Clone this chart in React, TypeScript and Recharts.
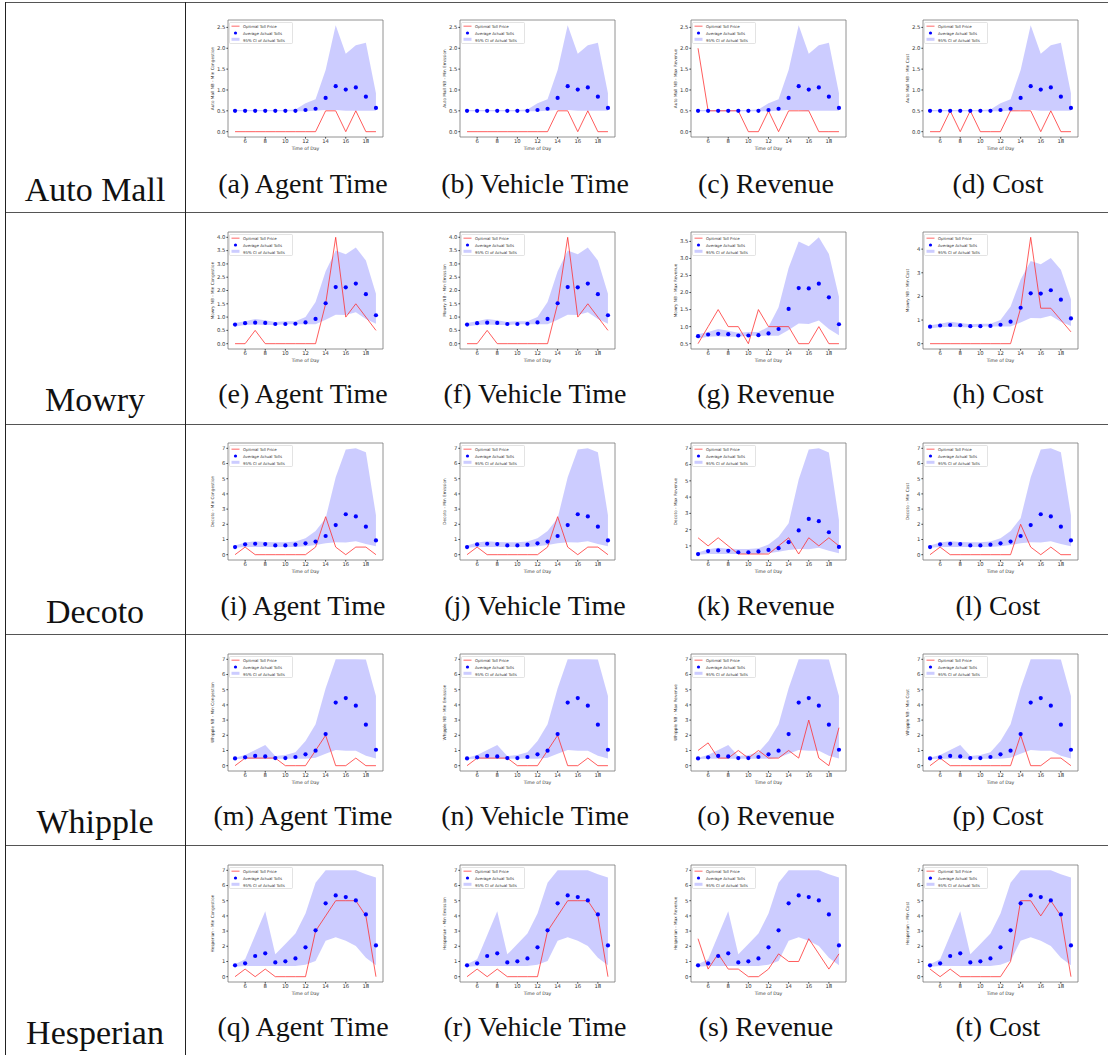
import React from 'react';
import { ComposedChart, Area, Line, Scatter, XAxis, YAxis, ReferenceArea, Legend } from 'recharts';

// hours on the x axis
const HOURS = [5, 6, 7, 8, 9, 10, 11, 12, 13, 14, 15, 16, 17, 18, 19];
const X_TICKS = [6, 8, 10, 12, 14, 16, 18];

// y tick sets
const TICKS_A = [0, 0.5, 1, 1.5, 2, 2.5];
const TICKS_B = [0, 0.5, 1, 1.5, 2, 2.5, 3, 3.5, 4];
const TICKS_C = [0.5, 1, 1.5, 2, 2.5, 3, 3.5];
const TICKS_D = [0, 1, 2, 3, 4];
const TICKS_E = [0, 1, 2, 3, 4, 5, 6, 7];
const TICKS_F = [1, 2, 3, 4, 5, 6, 7];

const OBJECTIVES = ['Min Congestion', 'Min Emission', 'Max Revenue', 'Min Cost'];
const CAPTIONS = ['Agent Time', 'Vehicle Time', 'Revenue', 'Cost'];
const LETTERS = 'abcdefghijklmnopqrst';
const LEGEND_LABELS = ['Optimal Toll Price', 'Average Actual Tolls', '95% CI of Actual Tolls'];

// Auto Mall
const AUTO_AVG = [0.5, 0.5, 0.5, 0.5, 0.5, 0.5, 0.5, 0.52, 0.55, 0.81, 1.09, 1.01, 1.06, 0.84, 0.57];
const AUTO_HIGH = [0.52, 0.52, 0.52, 0.52, 0.52, 0.52, 0.53, 0.68, 0.78, 1.48, 2.55, 1.87, 2.07, 2.13, 0.92];
const AUTO_LOW = [0.49, 0.49, 0.49, 0.49, 0.49, 0.49, 0.49, 0.49, 0.5, 0.52, 0.52, 0.5, 0.5, 0.5, 0.5];
const AUTO_AGENT = [0, 0, 0, 0, 0, 0, 0, 0, 0, 0.5, 0.5, 0, 0.5, 0, 0];
const AUTO_VEHICLE = [0, 0, 0, 0, 0, 0, 0, 0, 0, 0.5, 0.5, 0, 0.5, 0, 0];
const AUTO_REVENUE = [2, 0.5, 0.5, 0.5, 0.5, 0, 0, 0.5, 0, 0.5, 0.5, 0.5, 0, 0, 0];
const AUTO_COST = [0, 0, 0.5, 0, 0.5, 0, 0, 0, 0.5, 0.5, 0.5, 0, 0.5, 0, 0];

// Mowry
const MOWRY_AVG = [0.72, 0.77, 0.79, 0.78, 0.74, 0.74, 0.75, 0.8, 0.93, 1.52, 2.13, 2.12, 2.26, 1.86, 1.07];
const MOWRY_HIGH = [0.78, 0.84, 0.93, 0.88, 0.82, 0.84, 0.84, 1.0, 1.57, 2.72, 3.5, 3.36, 3.62, 3.13, 1.88];
const MOWRY_LOW = [0.65, 0.7, 0.72, 0.7, 0.7, 0.73, 0.73, 0.73, 0.73, 0.9, 1.09, 1.08, 1.18, 0.93, 0.75];
const MOWRY_AGENT = [0, 0, 0.5, 0, 0, 0, 0, 0, 0, 1.5, 4, 1, 1.5, 1, 0.5];
const MOWRY_VEHICLE = [0, 0, 0.5, 0, 0, 0, 0, 0, 0, 1.5, 4, 1, 1.5, 1, 0.5];
const MOWRY_REVENUE = [0.5, 1, 1.5, 1, 1, 0.5, 1.5, 1, 1, 1, 0.5, 0.5, 1, 0.5, 0.5];
const MOWRY_COST = [0, 0, 0, 0, 0, 0, 0, 0, 0, 1.5, 4.5, 1.5, 1.5, 1, 0.5];

// Decoto
const DECOTO_AVG = [0.5, 0.68, 0.72, 0.7, 0.61, 0.61, 0.66, 0.75, 0.86, 1.23, 1.95, 2.66, 2.52, 1.84, 0.94];
const DECOTO_HIGH = [0.6, 0.8, 0.88, 0.83, 0.81, 0.81, 0.86, 1.08, 1.56, 2.4, 5.09, 6.93, 7.0, 6.74, 2.6];
const DECOTO_LOW = [0.46, 0.5, 0.5, 0.5, 0.5, 0.5, 0.5, 0.55, 0.64, 0.75, 0.81, 0.8, 0.88, 0.7, 0.55];
const DECOTO_AGENT = [0, 0.5, 0, 0, 0, 0, 0, 0, 0.5, 2.5, 0.5, 0, 0.5, 0.5, 0];
const DECOTO_VEHICLE = [0, 0.5, 0, 0, 0, 0, 0, 0, 0.5, 2.5, 0.5, 0, 0.5, 0.5, 0];
const DECOTO_REVENUE = [1.5, 1, 1.5, 1, 0.5, 0.5, 0.5, 0.5, 1, 1.5, 0.5, 1.5, 1, 1.5, 1];
const DECOTO_COST = [0, 0.5, 0, 0, 0, 0, 0, 0, 0, 2, 0.5, 0, 0.5, 0, 0];

// Whipple
const WHIPPLE_AVG = [0.48, 0.55, 0.64, 0.61, 0.5, 0.5, 0.57, 0.75, 0.99, 2.08, 4.15, 4.45, 3.95, 2.7, 1.05];
const WHIPPLE_HIGH = [0.53, 0.7, 1.03, 1.36, 0.64, 0.7, 0.88, 1.62, 2.72, 5.09, 7.0, 7.0, 7.0, 6.98, 4.58];
const WHIPPLE_LOW = [0.44, 0.46, 0.46, 0.46, 0.46, 0.46, 0.46, 0.46, 0.53, 0.79, 1.03, 0.99, 0.99, 0.66, 0.48];
const WHIPPLE_AGENT = [0, 0.5, 0.5, 0.5, 0.5, 0, 0, 0, 1, 2, 0, 0, 0.5, 0, 0];
const WHIPPLE_VEHICLE = [0, 0.5, 0.5, 0.5, 0.5, 0, 0, 0, 1, 2, 0, 0, 0.5, 0, 0];
const WHIPPLE_REVENUE = [1, 1.5, 0.5, 0.5, 1, 0.5, 1, 0.5, 0.5, 1, 0.5, 3, 0.5, 0, 2.5];
const WHIPPLE_COST = [0, 0.5, 0, 0, 0, 0, 0, 0, 0, 2, 0, 0, 0.5, 0.5, 0];

// Hesperian
const HESP_AVG = [0.75, 0.88, 1.36, 1.54, 0.94, 1.01, 1.2, 1.93, 3.05, 4.83, 5.35, 5.24, 5.02, 4.1, 2.06];
const HESP_HIGH = [0.81, 1.14, 2.72, 4.3, 1.47, 2.15, 2.85, 4.15, 6.19, 7.0, 7.0, 7.0, 7.0, 6.74, 6.52];
const HESP_LOW = [0.66, 0.7, 0.7, 0.7, 0.7, 0.7, 0.7, 0.79, 1.03, 2.37, 2.59, 2.37, 2.02, 1.25, 0.75];
const HESP_AGENT = [0, 0.5, 0, 0.5, 0, 0, 0, 0, 3, 4, 5, 5, 5, 4, 0];
const HESP_VEHICLE = [0, 0.5, 0, 0.5, 0, 0, 0, 0, 3, 4, 5, 5, 5, 4, 0];
const HESP_REVENUE = [2.5, 0.5, 1.5, 0.5, 0.5, 0, 0, 0.5, 1.5, 1, 1, 2.5, 1.5, 0.5, 1.5];
const HESP_COST = [0.5, 0, 0.5, 0, 0, 0, 0, 0, 1, 5, 5, 4, 5, 4, 0];

const STATIONS = [
  { name: 'Auto Mall', prefix: 'Auto Mall NB', avg: AUTO_AVG, low: AUTO_LOW, high: AUTO_HIGH,
    tolls: [AUTO_AGENT, AUTO_VEHICLE, AUTO_REVENUE, AUTO_COST], ticks: [TICKS_A, TICKS_A, TICKS_A, TICKS_A], decimals: [1, 1, 1, 1] },
  { name: 'Mowry', prefix: 'Mowry NB', avg: MOWRY_AVG, low: MOWRY_LOW, high: MOWRY_HIGH,
    tolls: [MOWRY_AGENT, MOWRY_VEHICLE, MOWRY_REVENUE, MOWRY_COST], ticks: [TICKS_B, TICKS_B, TICKS_C, TICKS_D], decimals: [1, 1, 1, 0] },
  { name: 'Decoto', prefix: 'Decoto', avg: DECOTO_AVG, low: DECOTO_LOW, high: DECOTO_HIGH,
    tolls: [DECOTO_AGENT, DECOTO_VEHICLE, DECOTO_REVENUE, DECOTO_COST], ticks: [TICKS_E, TICKS_E, TICKS_F, TICKS_E], decimals: [0, 0, 0, 0] },
  { name: 'Whipple', prefix: 'Whipple NB', avg: WHIPPLE_AVG, low: WHIPPLE_LOW, high: WHIPPLE_HIGH,
    tolls: [WHIPPLE_AGENT, WHIPPLE_VEHICLE, WHIPPLE_REVENUE, WHIPPLE_COST], ticks: [TICKS_E, TICKS_E, TICKS_E, TICKS_E], decimals: [0, 0, 0, 0] },
  { name: 'Hesperian', prefix: 'Hesperian', avg: HESP_AVG, low: HESP_LOW, high: HESP_HIGH,
    tolls: [HESP_AGENT, HESP_VEHICLE, HESP_REVENUE, HESP_COST], ticks: [TICKS_E, TICKS_E, TICKS_E, TICKS_E], decimals: [0, 0, 0, 0] },
];

// layout
const ROW_LINES = [2, 212, 424, 634, 845];
const PLOT_TOPS = [20, 232, 443, 654, 865];
const PLOT_LEFTS = [228, 460, 691, 923];
const PLOT_W = 155;
const PLOT_H = 117;
const AXIS_W = 36;
const M_TOP = 6;
const X_H = 20;
const CW = AXIS_W + PLOT_W + 6;
const CH = M_TOP + PLOT_H + X_H + 4;
const SANS = 'DejaVu Sans';
const SERIF = 'Liberation Serif';
const RED = '#ff2a2a';

const LegendBox = () => (
  <svg width={64} height={22} style={{ display: 'block' }}>
    <rect x={0.5} y={0.5} width={63} height={21} rx={1} fill="#fff" fillOpacity={0.85} stroke="#d0d0d0" strokeWidth={0.6} />
    <line x1={2.5} x2={10.5} y1={4.2} y2={4.2} stroke={RED} strokeOpacity={0.6} strokeWidth={1.2} />
    <circle cx={6.5} cy={11} r={1.6} fill="#0000ff" />
    <rect x={2.5} y={15.8} width={8} height={3} fill="#0000ff" fillOpacity={0.2} />
    {LEGEND_LABELS.map((t, i) => (
      <text key={t} x={14} y={4.4 + i * 6.8} fontSize={3.9} fontFamily={SANS} fill="#333" dominantBaseline="central">{t}</text>
    ))}
  </svg>
);

function TollChart({ left, top, station, col }: any) {
  const data = HOURS.map((h, i) => ({
    hour: h,
    toll: station.tolls[col][i],
    avg: station.avg[i],
    band: [station.low[i], station.high[i]],
  }));
  const values = data.flatMap((d) => [d.toll, d.avg, d.band[0], d.band[1]]);
  const lo = Math.min(...values);
  const hi = Math.max(...values);
  const pad = (hi - lo) * 0.05;
  const yDomain = [lo - pad, hi + pad];
  const dec = station.decimals[col];
  const yLabel = `${station.prefix} - ${OBJECTIVES[col]}`;

  return (
    <div style={{ position: 'absolute', left: left - AXIS_W, top: top - M_TOP }}>
      <ComposedChart width={CW} height={CH} data={data} margin={{ top: M_TOP, right: CW - AXIS_W - PLOT_W, bottom: CH - M_TOP - PLOT_H - X_H, left: 0 }}>
        <XAxis
          type="number"
          dataKey="hour"
          domain={[4.3, 19.7]}
          ticks={X_TICKS}
          allowDataOverflow
          height={X_H}
          axisLine={false}
          tickSize={1.6}
          tickMargin={1}
          stroke="#444"
          tick={{ fontSize: 5.3, fill: '#333', fontFamily: SANS }}
          label={{
            content: () => (
              <text x={AXIS_W + PLOT_W / 2} y={M_TOP + PLOT_H + 11.5} fontSize={4.6} fontFamily={SANS} fill="#333" textAnchor="middle" dominantBaseline="central">Time of Day</text>
            ),
          }}
        />
        <YAxis
          type="number"
          domain={yDomain}
          ticks={station.ticks[col]}
          allowDataOverflow
          width={AXIS_W}
          axisLine={false}
          tickSize={1.6}
          tickMargin={1}
          stroke="#444"
          tick={{ fontSize: 5.3, fill: '#333', fontFamily: SANS }}
          tickFormatter={(v: number) => v.toFixed(dec)}
          label={{
            content: () => {
              const x = AXIS_W - 16;
              const y = M_TOP + PLOT_H / 2;
              return (
                <text x={x} y={y} transform={`rotate(-90 ${x} ${y})`} fontSize={4.2} fontFamily={SANS} fill="#333" textAnchor="middle" dominantBaseline="central">{yLabel}</text>
              );
            },
          }}
        />
        <Area type="linear" dataKey="band" stroke="none" fill="#0000ff" fillOpacity={0.2} isAnimationActive={false} />
        <Line type="linear" dataKey="toll" stroke={RED} strokeWidth={0.9} strokeOpacity={0.85} dot={false} activeDot={false} isAnimationActive={false} />
        <Scatter dataKey="avg" fill="#0000ff" isAnimationActive={false}
          shape={(p: any) => <circle cx={p.cx} cy={p.cy} r={2.1} fill="#0000ff" />} />
        <ReferenceArea x1={4.3} x2={19.7} y1={yDomain[0]} y2={yDomain[1]} fill="none" stroke="#777" strokeWidth={0.8} ifOverflow="visible" />
        <Legend
          content={LegendBox}
          layout="vertical"
          verticalAlign="middle"
          align="center"
          wrapperStyle={{ left: AXIS_W + 1, top: M_TOP + 2, width: 64, height: 22, right: 'auto', bottom: 'auto' }}
        />
      </ComposedChart>
    </div>
  );
}

export default function App() {
  let k = 0;
  return (
    <div style={{ position: 'absolute', left: 0, top: 0, width: 1108, height: 1055, background: '#fff', overflow: 'hidden' }}>
      <svg width={1108} height={1055} style={{ position: 'absolute', left: 0, top: 0 }}>
        {ROW_LINES.map((y) => (
          <line key={y} x1={5} x2={1108} y1={y + 0.5} y2={y + 0.5} stroke="#555" strokeWidth={1} />
        ))}
        <line x1={5.5} x2={5.5} y1={2} y2={1055} stroke="#222" strokeWidth={1} />
        <line x1={185.5} x2={185.5} y1={2} y2={1055} stroke="#222" strokeWidth={1} />
        {STATIONS.map((s, r) => (
          <text key={s.name} x={95} y={ROW_LINES[r] + 199} fontSize={34} fontFamily={SERIF} fill="#111" textAnchor="middle">{s.name}</text>
        ))}
        {STATIONS.map((s, r) =>
          CAPTIONS.map((c, col) => (
            <text key={`${r}-${col}`} x={PLOT_LEFTS[col] + 75} y={ROW_LINES[r] + 191} fontSize={28} fontFamily={SERIF} fill="#111" textAnchor="middle">
              {`(${LETTERS[r * 4 + col]}) ${c}`}
            </text>
          ))
        )}
      </svg>
      {STATIONS.map((s, r) =>
        CAPTIONS.map((_, col) => (
          <TollChart key={`c${k++}`} left={PLOT_LEFTS[col]} top={PLOT_TOPS[r]} station={s} col={col} />
        ))
      )}
    </div>
  );
}
